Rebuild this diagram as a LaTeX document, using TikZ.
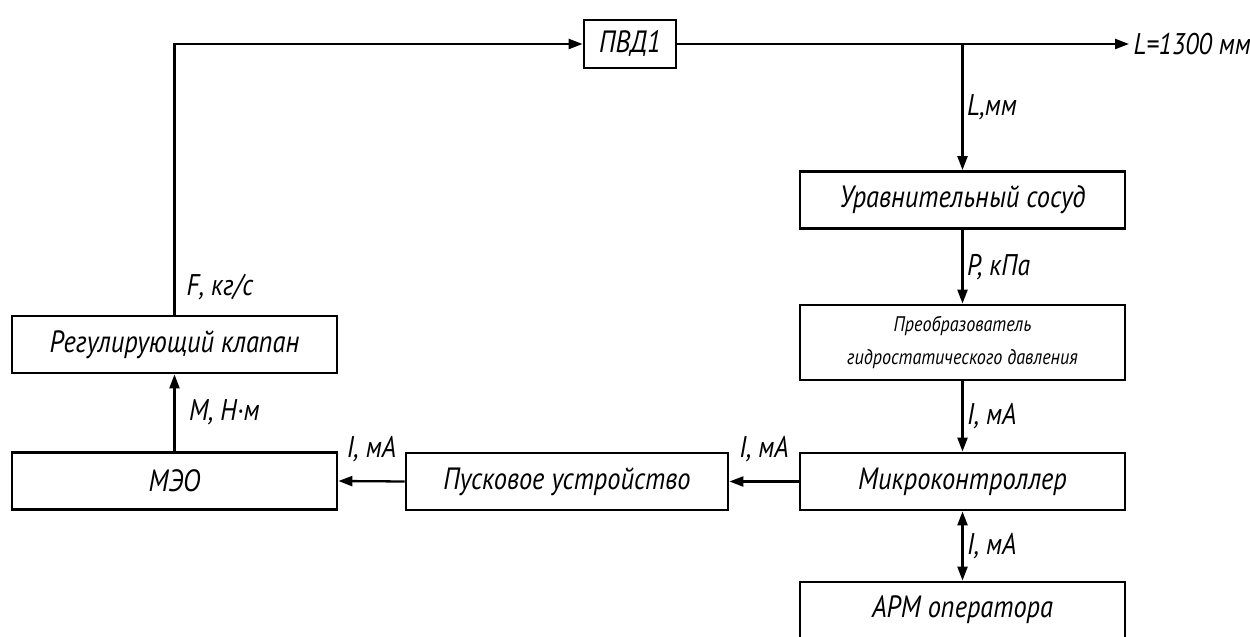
\documentclass[tikz,border=0pt]{standalone}
\usepackage{fontspec}
\setmainfont{PT Sans}[FakeStretch=0.86]
\usetikzlibrary{positioning, arrows.meta}

\begin{document}
\begin{tikzpicture}[line width=1.3pt, >={Triangle[length=2.8mm, width=2mm]},
    blk/.style={draw, line width=1.6pt, minimum width=6.5cm, minimum height=1.14cm,
                font=\itshape\fontsize{17.5}{19}\selectfont},
    lbl/.style={font=\itshape\fontsize{17}{19}\selectfont, inner sep=2pt}]
  \useasboundingbox (0,0) rectangle (25,-12.74);
  % right column
  \node[blk, minimum width=1.84cm, minimum height=0.96cm] (pvd) at (12.6,-0.88) {ПВД1};
  \node[blk] (urav) at (19.25,-4.0) {Уравнительный сосуд};
  \node[blk, minimum height=1.5cm, align=center,
        font=\itshape\fontsize{12}{19}\selectfont] (preob) at (19.25,-6.85)
        {Преобразователь\\гидростатического давления};
  \node[blk] (mikro) at (19.25,-9.63) {Микроконтроллер};
  \node[blk, minimum height=1.3cm, text depth=0.3cm] (arm) at (19.25,-12.29) {АРМ оператора};
  % left part
  \node[blk, minimum width=6.44cm] (pusk) at (11.34,-9.63) {Пусковое устройство};
  \node[blk] (meo) at (3.49,-9.62) {МЭО};
  \node[blk] (klapan) at (3.49,-6.89) {Регулирующий клапан};
  % outlet
  \node[lbl, anchor=west] (lout) at (22.58,-0.88) {L=1300 мм};
  \coordinate (branch) at (urav.north |- pvd.east);
  \coordinate (corner) at (klapan.north |- pvd.west);
  % connections
  \draw[->] (pvd.east) -- (lout.west);
  \draw[->] (branch) -- node[lbl, right] {L,мм} (urav.north);
  \draw[->] (urav.south) -- node[lbl, right] {P, кПа} (preob.north);
  \draw[->] (preob.south) -- node[lbl, right] {I, мА} (mikro.north);
  \draw[<->] (mikro.south) -- node[lbl, right] {I, мА} (arm.north);
  \draw[->] (mikro.west) -- node[lbl, above=0.3cm] {I, мА} (pusk.east);
  \draw[->] (pusk.west) -- node[lbl, above=0.3cm] {I, мА} (meo.east);
  \draw[->] (meo.north) -- node[lbl, right=0.2cm] {M, Н·м} (klapan.south);
  \draw[->] (klapan.north) -- node[lbl, right=0.15cm, pos=0.1] {F, кг/с} (corner) -- (pvd.west);
\end{tikzpicture}
\end{document}
